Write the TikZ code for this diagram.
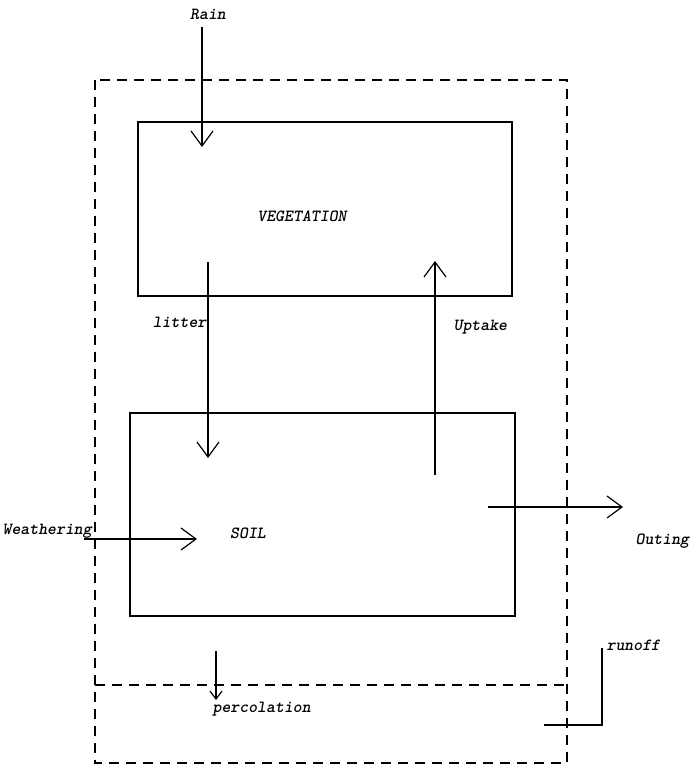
\documentclass[tikz,border=0pt]{standalone}
\usepackage{tikz}
\usetikzlibrary{arrows.meta}

\begin{document}
\begin{tikzpicture}[x=1pt, y=-1pt, >={Straight Barb[length=15pt,width=22pt]}, line width=1.2pt,
  lbl/.style={font=\fontsize{17}{20}\selectfont\ttfamily\bfseries\itshape, inner sep=0pt},
  pool/.style={draw, line width=1.2pt, inner sep=0pt},
  bound/.style={dash pattern=on 10pt off 7pt, line width=1.3pt}]
\useasboundingbox (0,0) rectangle (697,771);
% system boundary
\draw[bound] (95,80) rectangle (567,763);
\draw[bound] (95,685) -- (567,685);
% pools
\node[pool, minimum width=374pt, minimum height=174pt] (veg) at (325,209) {};
\node[lbl] (veglbl) at (302,216) {VEGETATION};
\node[pool, minimum width=385pt, minimum height=203pt] (soil) at (322.5,514.5) {};
\node[lbl] (soillbl) at (248,533) {SOIL};
% flow labels
\node[lbl] (rain) at (208,14) {Rain};
\node[lbl, anchor=east] (litter) at (207,322) {litter};
\node[lbl, anchor=west] (uptake) at (453,327) {Uptake};
\node[lbl, anchor=west] (weathering) at (2,531) {Weathering};
\node[lbl, anchor=west] (outing) at (635,541) {Outing};
\node[lbl, anchor=west] (percolation) at (212,709) {percolation};
\node[lbl, anchor=west] (runoff) at (606,645) {runoff};
\coordinate (rainin) at (202,147);
\coordinate (litterout) at (208,262);
\coordinate (litterin) at (208,458);
\coordinate (uptakeout) at (435,475);
\coordinate (uptakein) at (435,261);
\coordinate (weathin) at (197,539);
\coordinate (outstart) at (488,507);
\coordinate (outend) at (623,507);
\coordinate (percout) at (216,651);
\coordinate (percin) at (216,700);
\coordinate (runstart) at (544,725);
\coordinate (runend) at (602,648);
% flows
\draw[->, shorten <=7pt] (rain.south -| rainin) -- (rainin);
\draw[->] (litterout) -- (litterin);
\draw[->] (uptakeout) -- (uptakein);
\draw[->] ([xshift=-8pt]weathering.east |- weathin) -- (weathin);
\draw[->] (outstart) -- (outend);
\draw[->, >={Straight Barb[length=8pt,width=12pt]}] (percout) -- (percin);
\draw (runstart) -| (runend);
\end{tikzpicture}
\end{document}
